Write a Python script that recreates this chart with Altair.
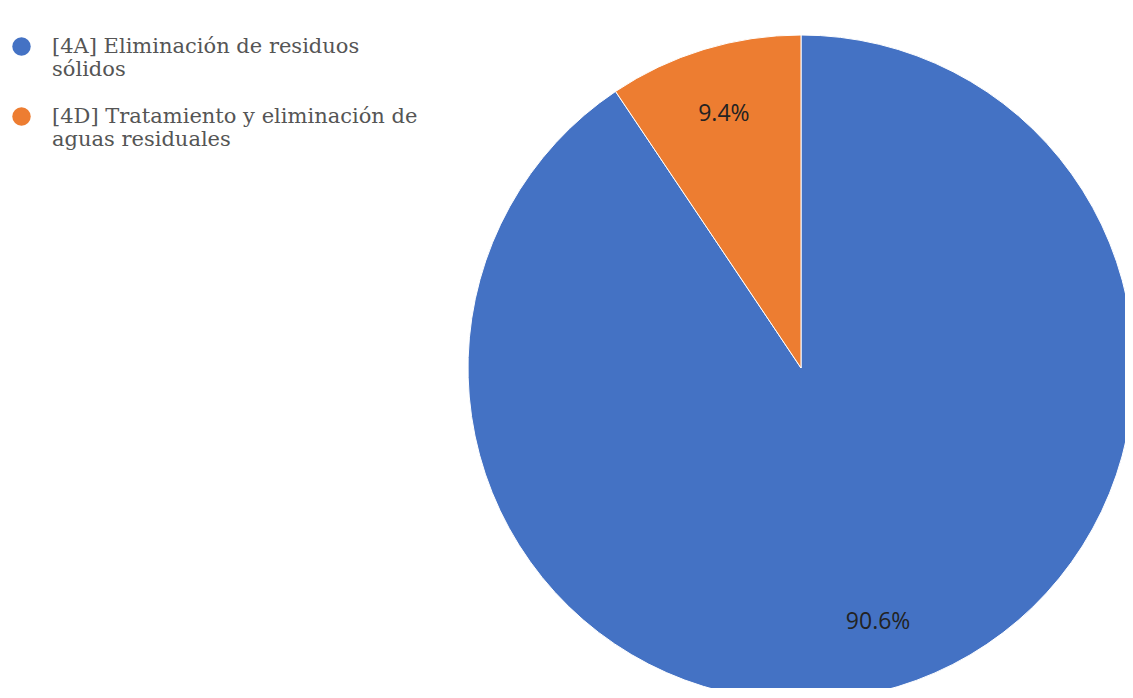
import altair as alt
import pandas as pd

categories = ["[4A] Eliminación de residuos sólidos",
              "[4D] Tratamiento y eliminación de aguas residuales"]
values = [90.6, 9.4]
labels = ["90.6%", "9.4%"]
colors = ["#4472C4", "#ED7D31"]

df = pd.DataFrame({"cat": categories, "val": values, "lab": labels, "ord": [0, 1]})

CX, CY, R = 793, 360, 333

label_expr = ("datum.label == '" + categories[0] + "' ? ['[4A] Eliminación de residuos', 'sólidos'] : "
              "['[4D] Tratamiento y eliminación de', 'aguas residuales']")

base = alt.Chart(df).encode(
    theta=alt.Theta("val:Q", stack=True),
    order=alt.Order("ord:Q"),
    x=alt.value(CX), y=alt.value(CY),
)

pie = base.mark_arc(outerRadius=R, stroke="white", strokeWidth=1).encode(
    color=alt.Color("cat:N", scale=alt.Scale(domain=categories, range=colors),
                    legend=alt.Legend(title=None, orient="none", legendX=3, legendY=28,
                                      symbolType="circle", symbolSize=340,
                                      labelFont="DejaVu Serif", labelFontSize=21,
                                      labelColor="#555555", labelExpr=label_expr,
                                      rowPadding=25, labelOffset=20,
                                      labelLimit=500, symbolStrokeWidth=0))
)

text = base.mark_text(radius=265, font="Open Sans", fontSize=23, color="#222222").encode(
    text="lab:N"
)

chart = (pie + text).properties(
    width=1117, height=680, padding=0, autosize=alt.AutoSizeParams(type="none")
).configure_view(stroke=None)

chart.save("out.html", embed_options={"renderer": "svg", "actions": False})
